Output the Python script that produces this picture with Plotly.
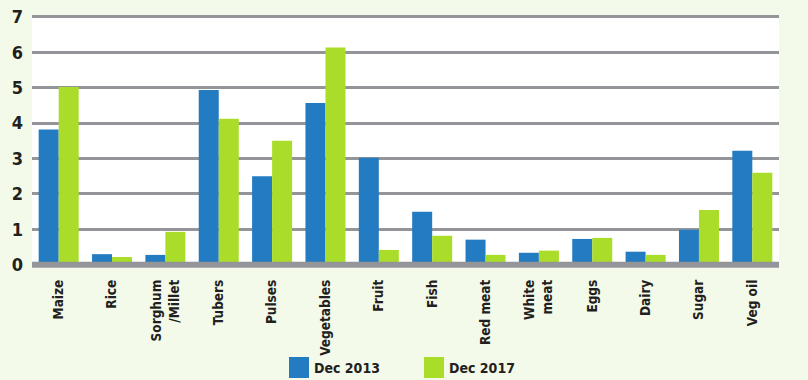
import plotly.graph_objects as go

categories = ["Maize", "Rice", "Sorghum<br>/Millet", "Tubers", "Pulses", "Vegetables", "Fruit",
              "Fish", "Red meat", "White<br>meat", "Eggs", "Dairy", "Sugar", "Veg oil"]
dec_2013 = [3.82, 0.30, 0.28, 4.93, 2.50, 4.57, 3.02, 1.50, 0.71, 0.34, 0.73, 0.37, 0.99, 3.22]
dec_2017 = [5.02, 0.22, 0.93, 4.12, 3.50, 6.13, 0.42, 0.82, 0.28, 0.40, 0.76, 0.28, 1.55, 2.60]
series_names = ["Dec 2013", "Dec 2017"]
y_ticks = [0, 1, 2, 3, 4, 5, 6, 7]

BLUE = "#237BC2"
GREEN = "#AADD29"
GRAY = "#949598"
BG = "#F3FAEA"
FONT = "DejaVu Sans Condensed, Liberation Sans Narrow, Arial Narrow, sans-serif"

W, H = 808, 380
ML, MR, MT, MB = 32, 29, 15, 112

fig = go.Figure()
fig.add_trace(go.Bar(x=categories, y=dec_2013, name=series_names[0], marker_color=BLUE,
                     marker_line_width=0, showlegend=False))
fig.add_trace(go.Bar(x=categories, y=dec_2017, name=series_names[1], marker_color=GREEN,
                     marker_line_width=0, showlegend=False))

# zero axis line above bars
fig.add_shape(type="line", xref="paper", yref="y", x0=0, x1=1, y0=0, y1=0,
              line=dict(color=GRAY, width=6), layer="above")

# custom legend (pixel helpers)
pw, ph = W - ML - MR, H - MT - MB
def px_x(p):
    return (p - ML) / pw
def px_y(p):
    return (H - MB - p) / ph

legend_items = [(289, BLUE, series_names[0]), (424, GREEN, series_names[1])]
for x0, col, name in legend_items:
    fig.add_shape(type="rect", xref="paper", yref="paper",
                  x0=px_x(x0), x1=px_x(x0 + 20), y0=px_y(378), y1=px_y(357),
                  fillcolor=col, line_width=0)
    fig.add_annotation(xref="paper", yref="paper", x=px_x(x0 + 23), y=px_y(367.5),
                       text=name, showarrow=False, xanchor="left", yanchor="middle",
                       font=dict(family=FONT, size=14, color="#231F20", weight="bold"))

fig.update_layout(
    width=W, height=H,
    margin=dict(l=ML, r=MR, t=MT, b=MB, pad=0),
    paper_bgcolor=BG, plot_bgcolor="white",
    barmode="group", bargap=0.25, bargroupgap=0,
    font=dict(family=FONT, color="#231F20"),
    xaxis=dict(tickangle=-90, tickfont=dict(size=13.5, family=FONT, weight="bold"),
               showgrid=False, showline=False, ticks="", ticklabelstandoff=8,
               automargin=False),
    yaxis=dict(range=[-0.09, 7.05], tickvals=y_ticks, showgrid=True, gridcolor=GRAY,
               gridwidth=3, zeroline=False, showline=False, ticks="",
               tickfont=dict(size=18, family=FONT, weight="bold"), ticklabelstandoff=8,
               automargin=False),
)

fig.write_html("out.html", config={"displayModeBar": False},
               post_script="document.body.style.margin='0';")
